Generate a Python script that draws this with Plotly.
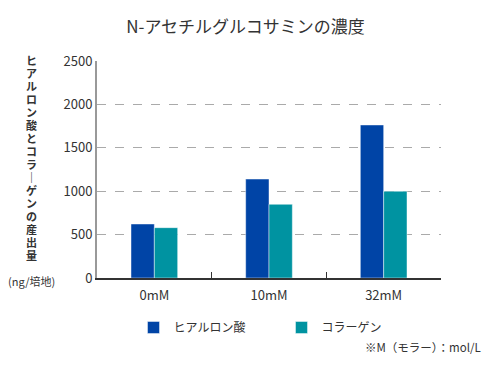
import plotly.graph_objects as go

categories = ["0mM", "10mM", "32mM"]
hyaluronic = [622, 1140, 1763]
collagen = [580, 849, 1000]
series_names = ["ヒアルロン酸", "コラーゲン"]
title_text = "N-アセチルグルコサミンの濃度"
yaxis_title_chars = list("ヒアルロン酸とコラ") + ["｜"] + list("ゲンの産出量")
yaxis_unit = "(ng/培地)"
note_text = "※M（モラー）：mol/L"

FONT = "Noto Sans CJK JP"
TXT = "#333333"
W, H = 490, 370
ML, MR, MT, MB = 89, 57, 53, 100
PW, PH = W - ML - MR, H - MT - MB


def px(x):
    return (x - ML) / PW


def py(y):
    return (H - MB - y) / PH


fig = go.Figure()
fig.add_trace(go.Bar(x=categories, y=hyaluronic, name=series_names[0],
                     marker=dict(color="#0044a6", line=dict(color="rgba(255,255,255,0.45)", width=1))))
fig.add_trace(go.Bar(x=categories, y=collagen, name=series_names[1],
                     marker=dict(color="#0093a1", line=dict(color="rgba(255,255,255,0.45)", width=1))))

fig.update_layout(
    width=W, height=H,
    margin=dict(l=ML, r=MR, t=MT, b=MB, autoexpand=False),
    paper_bgcolor="white", plot_bgcolor="white",
    font=dict(family=FONT, color=TXT, size=13),
    barmode="group", bargap=0.593, bargroupgap=0,
    title=dict(text=title_text, x=237.5 / W, xanchor="center", xref="container",
               y=1 - 19 / H, yanchor="middle", yref="container",
               font=dict(size=17, color=TXT, family=FONT)),
    showlegend=True,
    legend=dict(orientation="h", xref="container", yref="container",
                x=125.5 / W, y=1 - 305 / H, xanchor="left", yanchor="top",
                font=dict(size=12, color=TXT), itemwidth=30, traceorder="normal",
                entrywidth=103, entrywidthmode="pixels"),
    xaxis=dict(showline=True, linecolor="#333333", linewidth=2, ticks="inside",
               tickson="boundaries", ticklen=6, tickcolor="#333333", automargin=False,
               ticklabelstandoff=4,
               tickfont=dict(size=13, color=TXT), showgrid=False),
    yaxis=dict(range=[0, 2500], dtick=500, showline=True, linecolor="#999999", linewidth=2,
               showgrid=True, gridcolor="#aaaaaa", griddash="dash", gridwidth=1, automargin=False,
               ticks="", tickfont=dict(size=13, color=TXT), zeroline=False),
)

step = 13.0
first = 52.0
for i, ch in enumerate(yaxis_title_chars):
    fig.add_annotation(text="<b>" + ch + "</b>", xref="paper", yref="paper",
                       x=px(23), y=py(first + i * step), xanchor="center", yanchor="middle",
                       showarrow=False, font=dict(size=11, color=TXT, family=FONT))
fig.add_annotation(text=yaxis_unit, xref="paper", yref="paper",
                   x=px(23), y=py(273), xanchor="center", yanchor="middle", showarrow=False,
                   font=dict(size=11, color=TXT, family=FONT))
fig.add_annotation(text=note_text, xref="paper", yref="paper",
                   x=px(475), y=py(339), xanchor="right", yanchor="middle", showarrow=False,
                   font=dict(size=11.5, color=TXT, family=FONT))

fig.write_html("out.html")
